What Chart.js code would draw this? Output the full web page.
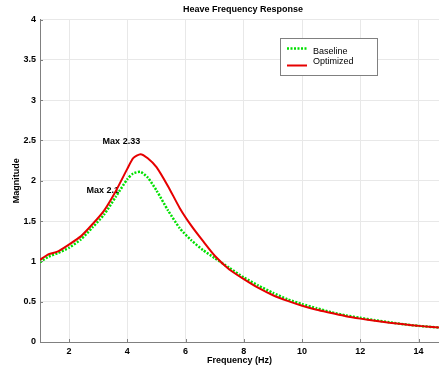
<!DOCTYPE html>
<html>
<head>
<meta charset="utf-8">
<script src="https://cdn.jsdelivr.net/npm/chart.js@4.4.0/dist/chart.umd.min.js"></script>
<style>
  html, body { margin: 0; padding: 0; background: #fff; }
  #wrap { width: 439px; height: 371px; }
</style>
</head>
<body>
<div id="wrap"><canvas id="chart"></canvas></div>
<script>
// values
const freq = [1, 1.3, 1.6, 2, 2.4, 2.8, 3.2, 3.6, 4.0, 4.2, 4.45, 4.7, 5.0, 5.4, 5.8, 6.2, 6.6, 7.0,
  7.5, 8, 8.5, 9, 9.5, 10, 10.5, 11, 11.5, 12, 12.5, 13, 13.5, 14, 14.7];
const baseline = [0.99, 1.06, 1.10, 1.17, 1.27, 1.42, 1.58, 1.80, 2.02, 2.09, 2.11, 2.04, 1.88, 1.63,
  1.41, 1.26, 1.14, 1.04, 0.92, 0.80, 0.70, 0.61, 0.53, 0.47, 0.42, 0.37, 0.33, 0.30, 0.27, 0.245,
  0.22, 0.20, 0.18];
const optimized = [1.02, 1.09, 1.12, 1.21, 1.31, 1.46, 1.63, 1.87, 2.15, 2.28, 2.33, 2.28, 2.17, 1.93,
  1.66, 1.44, 1.25, 1.07, 0.90, 0.78, 0.67, 0.58, 0.51, 0.45, 0.40, 0.36, 0.32, 0.29, 0.265, 0.24,
  0.22, 0.20, 0.18];
const xTicks = [2, 4, 6, 8, 10, 12, 14];
const yTicks = [0, 0.5, 1, 1.5, 2, 2.5, 3, 3.5, 4];
const annoText = ["Max 2.33", "Max 2.1"];
const annoX = [3.15, 2.6];
const annoY = [2.49, 1.885];

const FONT = "'Liberation Sans', Arial, Helvetica, sans-serif";
const AXIS = "#808080";

const toPoints = ys => freq.map((f, i) => ({ x: f, y: ys[i] }));

const extras = {
  id: "extras",
  beforeDatasetsDraw(chart) {
    const { ctx, scales: { x, y } } = chart;
    ctx.save();
    ctx.fillStyle = "#000";
    ctx.font = "bold 9px " + FONT;
    ctx.textAlign = "left";
    ctx.textBaseline = "middle";
    annoText.forEach((t, i) => ctx.fillText(t, x.getPixelForValue(annoX[i]), y.getPixelForValue(annoY[i])));
    ctx.restore();
  },
  afterDraw(chart) {
    const { ctx, chartArea: a, scales: { x, y } } = chart;
    ctx.save();
    // title, centred a little right of the canvas like the original
    ctx.fillStyle = "#000";
    ctx.font = "bold 9px " + FONT;
    ctx.textAlign = "center";
    ctx.textBaseline = "middle";
    ctx.fillText("Heave Frequency Response", 243, 10);

    // inward tick marks
    ctx.strokeStyle = AXIS;
    ctx.lineWidth = 1;
    ctx.beginPath();
    xTicks.forEach(v => {
      const px = Math.round(x.getPixelForValue(v)) + 0.5;
      ctx.moveTo(px, a.bottom);
      ctx.lineTo(px, a.bottom - 3);
    });
    yTicks.forEach(v => {
      const py = Math.round(y.getPixelForValue(v)) + 0.5;
      ctx.moveTo(a.left, py);
      ctx.lineTo(a.left + 3, py);
    });
    ctx.stroke();

    // legend box
    const bx = 280.5, by = 38.5, bw = 97, bh = 37;
    ctx.fillStyle = "#fff";
    ctx.fillRect(bx, by, bw, bh);
    ctx.strokeStyle = AXIS;
    ctx.strokeRect(bx, by, bw, bh);
    const ds = chart.data.datasets;
    const rows = [[ds[1], 48.5, 51.5], [ds[0], 65.5, 62]];
    rows.forEach(([d, ly, ty]) => {
      ctx.strokeStyle = d.borderColor;
      ctx.lineWidth = d.borderWidth;
      ctx.setLineDash(d.borderDash || []);
      ctx.beginPath();
      ctx.moveTo(287, ly);
      ctx.lineTo(307, ly);
      ctx.stroke();
      ctx.setLineDash([]);
      ctx.fillStyle = "#000";
      ctx.font = "9px " + FONT;
      ctx.textAlign = "left";
      ctx.textBaseline = "middle";
      ctx.fillText(d.label, 313, ty);
    });
    ctx.restore();
  }
};

const tickFont = { family: FONT, size: 9, weight: "bold" };

new Chart(document.getElementById("chart"), {
  type: "line",
  data: {
    datasets: [
      {
        label: "Optimized",
        data: toPoints(optimized),
        borderColor: "#e60000",
        borderWidth: 2,
        pointRadius: 0,
        tension: 0.2,
        order: 0
      },
      {
        label: "Baseline",
        data: toPoints(baseline),
        borderColor: "#00e000",
        borderWidth: 2.5,
        borderDash: [2, 1.5],
        pointRadius: 0,
        tension: 0.2,
        order: 1
      }
    ]
  },
  options: {
    responsive: true,
    maintainAspectRatio: false,
    animation: false,
    layout: { padding: { top: 19.5, left: 0, right: 0, bottom: 0 } },
    plugins: {
      legend: { display: false },
      tooltip: { enabled: false },
      title: { display: false }
    },
    scales: {
      x: {
        type: "linear",
        min: 1,
        max: 14.7,
        afterBuildTicks: s => { s.ticks = xTicks.map(v => ({ value: v })); },
        afterFit: s => { s.height = 29; },
        ticks: { color: "#000", font: tickFont, padding: 4, callback: v => String(v) },
        grid: { color: "#e8e8e8", drawTicks: false },
        border: { color: AXIS },
        title: {
          display: true,
          text: "Frequency (Hz)",
          color: "#000",
          font: tickFont,
          padding: { top: 0, bottom: 5 }
        }
      },
      y: {
        type: "linear",
        min: 0,
        max: 4,
        afterBuildTicks: s => { s.ticks = yTicks.map(v => ({ value: v })); },
        afterFit: s => { s.width = 40; },
        ticks: { color: "#000", font: tickFont, padding: 4, callback: v => String(v) },
        grid: { color: "#e8e8e8", drawTicks: false },
        border: { color: AXIS },
        title: {
          display: true,
          text: "Magnitude",
          color: "#000",
          font: tickFont,
          padding: { top: 11, bottom: 0 }
        }
      }
    }
  },
  plugins: [extras]
});
</script>
</body>
</html>
